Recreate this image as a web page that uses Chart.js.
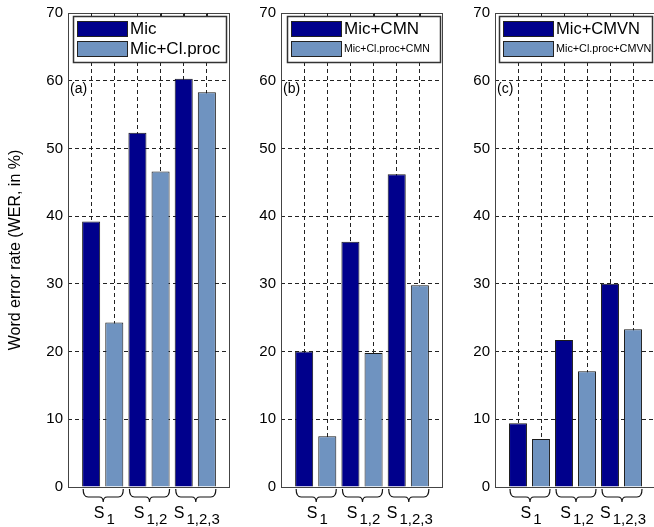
<!DOCTYPE html>
<html>
<head>
<meta charset="utf-8">
<script src="https://cdn.jsdelivr.net/npm/chart.js@4/dist/chart.umd.min.js"></script>
<style>
html,body{margin:0;padding:0;background:#fff;overflow:hidden;width:654px;height:527px;}
canvas{position:absolute;top:0;}
</style>
</head>
<body>
<canvas id="ca" width="240" height="527" style="left:0px"></canvas>
<canvas id="cb" width="210" height="527" style="left:240px"></canvas>
<canvas id="cc" width="210" height="527" style="left:455px"></canvas>
<script>
// ---- data ----
const groupSubscripts = ['1', '1,2', '1,2,3'];
const yTickValues = [0, 10, 20, 30, 40, 50, 60, 70];
const xGridValues = [0, 1, 2, 3, 4, 5, 6, 7];
const yAxisTitle = 'Word error rate (WER, in %)';

const panelLabelA = '(a)';
const legendA = ['Mic', 'Mic+Cl.proc'];
const micA = [39.2, 52.3, 60.3];
const procA = [24.3, 46.6, 58.3];

const panelLabelB = '(b)';
const legendB = ['Mic+CMN', 'Mic+Cl.proc+CMN'];
const micB = [20.0, 36.2, 46.2];
const procB = [7.5, 19.8, 29.8];

const panelLabelC = '(c)';
const legendC = ['Mic+CMVN', 'Mic+Cl.proc+CMVN'];
const micC = [9.4, 21.7, 30.0];
const procC = [7.1, 17.1, 23.3];

// ---- styles ----
const FONT = '"Liberation Sans", Arial, sans-serif';
const DARK = '#00008c';
const LIGHT = '#6f93c0';

const panelPlugin = {
  id: 'panelDeco',
  afterDatasetsDraw(chart) {
    const o = chart.options.plugins.panelDeco;
    const ctx = chart.ctx;
    const a = chart.chartArea;
    const xs = chart.scales.x;
    ctx.save();
    // frame
    ctx.strokeStyle = '#444';
    ctx.lineWidth = 1;
    ctx.setLineDash([]);
    ctx.strokeRect(Math.round(a.left) + 0.5, Math.round(a.top) + 0.5, Math.round(a.right - a.left) - 1, Math.round(a.bottom - a.top));
    // top ticks
    ctx.strokeStyle = '#222';
    for (let v = 1; v <= 6; v++) {
      const px = Math.round(xs.getPixelForValue(v)) + 0.5;
      ctx.beginPath();
      ctx.moveTo(px, a.top); ctx.lineTo(px, a.top + 5);
      ctx.stroke();
    }
    // legend
    const lx = a.left + o.legendDx, ly = a.top + 3, lw = 153, lh = 46;
    ctx.fillStyle = '#fff';
    ctx.fillRect(lx, ly, lw, lh);
    ctx.strokeStyle = '#333';
    ctx.lineWidth = 1.5;
    ctx.strokeRect(lx + 0.5, ly + 0.5, lw, lh);
    ctx.lineWidth = 1;
    const cols = [DARK, LIGHT];
    chart.data.datasets.forEach((ds, i) => {
      const sy = ly + 5 + i * 20;
      ctx.fillStyle = cols[i];
      ctx.fillRect(lx + 4, sy, 51, 16);
      ctx.strokeStyle = '#222';
      ctx.strokeRect(lx + 4.5, sy + 0.5, 50, 15);
      ctx.fillStyle = '#000';
      ctx.textBaseline = 'middle';
      ctx.textAlign = 'left';
      ctx.font = (o.legendSizes[i]) + 'px ' + FONT;
      ctx.fillText(ds.label, lx + 57, sy + 8.5);
    });
    // panel label
    ctx.font = '14px ' + FONT;
    ctx.textBaseline = 'alphabetic';
    ctx.fillStyle = '#000';
    ctx.fillText(o.panelLabel, a.left + 2, a.top + 80);
    // braces and group labels
    ctx.strokeStyle = '#111';
    ctx.lineWidth = 1.2;
    const y0 = a.bottom + 2;
    groupSubscripts.forEach((sub, g) => {
      const p1 = xs.getPixelForValue(2 * g + 1);
      const p2 = xs.getPixelForValue(2 * g + 2);
      const x1 = p1 - 8, x2 = p2 + 9, xm = (x1 + x2) / 2;
      ctx.beginPath();
      ctx.moveTo(x1, y0);
      ctx.quadraticCurveTo(x1, y0 + 8, x1 + 5, y0 + 8);
      ctx.lineTo(xm - 4, y0 + 8);
      ctx.quadraticCurveTo(xm, y0 + 8, xm, y0 + 13);
      ctx.quadraticCurveTo(xm, y0 + 8, xm + 4, y0 + 8);
      ctx.lineTo(x2 - 5, y0 + 8);
      ctx.quadraticCurveTo(x2, y0 + 8, x2, y0);
      ctx.stroke();
      ctx.font = '16px ' + FONT;
      const wS = ctx.measureText('S').width;
      ctx.font = '15px ' + FONT;
      const wSub = ctx.measureText(sub).width;
      const total = wS + 2 + wSub;
      const sx = (p1 + p2) / 2 + 1.5 - total / 2;
      ctx.textAlign = 'left';
      ctx.font = '16px ' + FONT;
      ctx.fillText('S', sx, a.bottom + 31);
      ctx.font = '15px ' + FONT;
      ctx.fillText(sub, sx + wS + 2, a.bottom + 37);
    });
    // y title
    if (o.yTitle) {
      ctx.save();
      ctx.translate(16, (a.top + a.bottom) / 2);
      ctx.rotate(-Math.PI / 2);
      ctx.font = '16px ' + FONT;
      ctx.textAlign = 'center';
      ctx.textBaseline = 'middle';
      ctx.fillText(o.yTitle, 0, 0);
      ctx.restore();
    }
    ctx.restore();
  }
};

function makePanel(id, labels, mic, proc, panelLabel, yW, padRight, legendDx, legendSizes, yTitle) {
  const ds = [
    { label: labels[0], data: mic.map((v, i) => ({ x: 2 * i + 1, y: v })), backgroundColor: DARK },
    { label: labels[1], data: proc.map((v, i) => ({ x: 2 * i + 2, y: v })), backgroundColor: LIGHT }
  ];
  ds.forEach(d => { d.borderColor = '#1a1a1a'; d.borderWidth = 1; d.grouped = false; d.barPercentage = 0.78; d.categoryPercentage = 1; });
  return new Chart(document.getElementById(id), {
    type: 'bar',
    data: { datasets: ds },
    plugins: [panelPlugin],
    options: {
      responsive: false,
      animation: false,
      events: [],
      layout: { padding: { left: 0, right: padRight, top: 13, bottom: 0 } },
      plugins: {
        legend: { display: false },
        tooltip: { enabled: false },
        panelDeco: { panelLabel, legendDx, legendSizes, yTitle }
      },
      scales: {
        x: {
          type: 'linear', min: 0, max: 7, offset: false,
          afterBuildTicks: s => { s.ticks = xGridValues.map(v => ({ value: v })); },
          ticks: { display: false },
          grid: {
            offset: false, drawTicks: false, lineWidth: 1,
            color: c => (c.tick && (c.tick.value === 0 || c.tick.value === 7)) ? 'rgba(0,0,0,0)' : '#222'
          },
          border: { display: false, dash: [4, 3] },
          afterFit: s => { s.height = 40; s.paddingLeft = 0; s.paddingRight = 0; s.paddingTop = 0; s.paddingBottom = 0; }
        },
        y: {
          min: 0, max: 70,
          afterBuildTicks: s => { s.ticks = yTickValues.map(v => ({ value: v })); },
          ticks: { color: '#000', font: { family: FONT, size: 15 }, padding: 5 },
          grid: {
            drawTicks: false, lineWidth: 1,
            color: c => (c.tick && (c.tick.value === 0 || c.tick.value === 70)) ? 'rgba(0,0,0,0)' : '#222'
          },
          border: { display: false, dash: [4, 3] },
          afterFit: s => { s.width = yW; s.paddingTop = 0; s.paddingBottom = 0; s.paddingLeft = 0; s.paddingRight = 0; }
        }
      }
    }
  });
}

makePanel('ca', legendA, micA, procA, panelLabelA, 68, 10, 5, [17, 17], yAxisTitle);
makePanel('cb', legendB, micB, procB, panelLabelB, 41, 7, 6, [17, 10.5], null);
makePanel('cc', legendC, micC, procC, panelLabelC, 40, 9, 4, [16.5, 10.8], null);
</script>
</body>
</html>
